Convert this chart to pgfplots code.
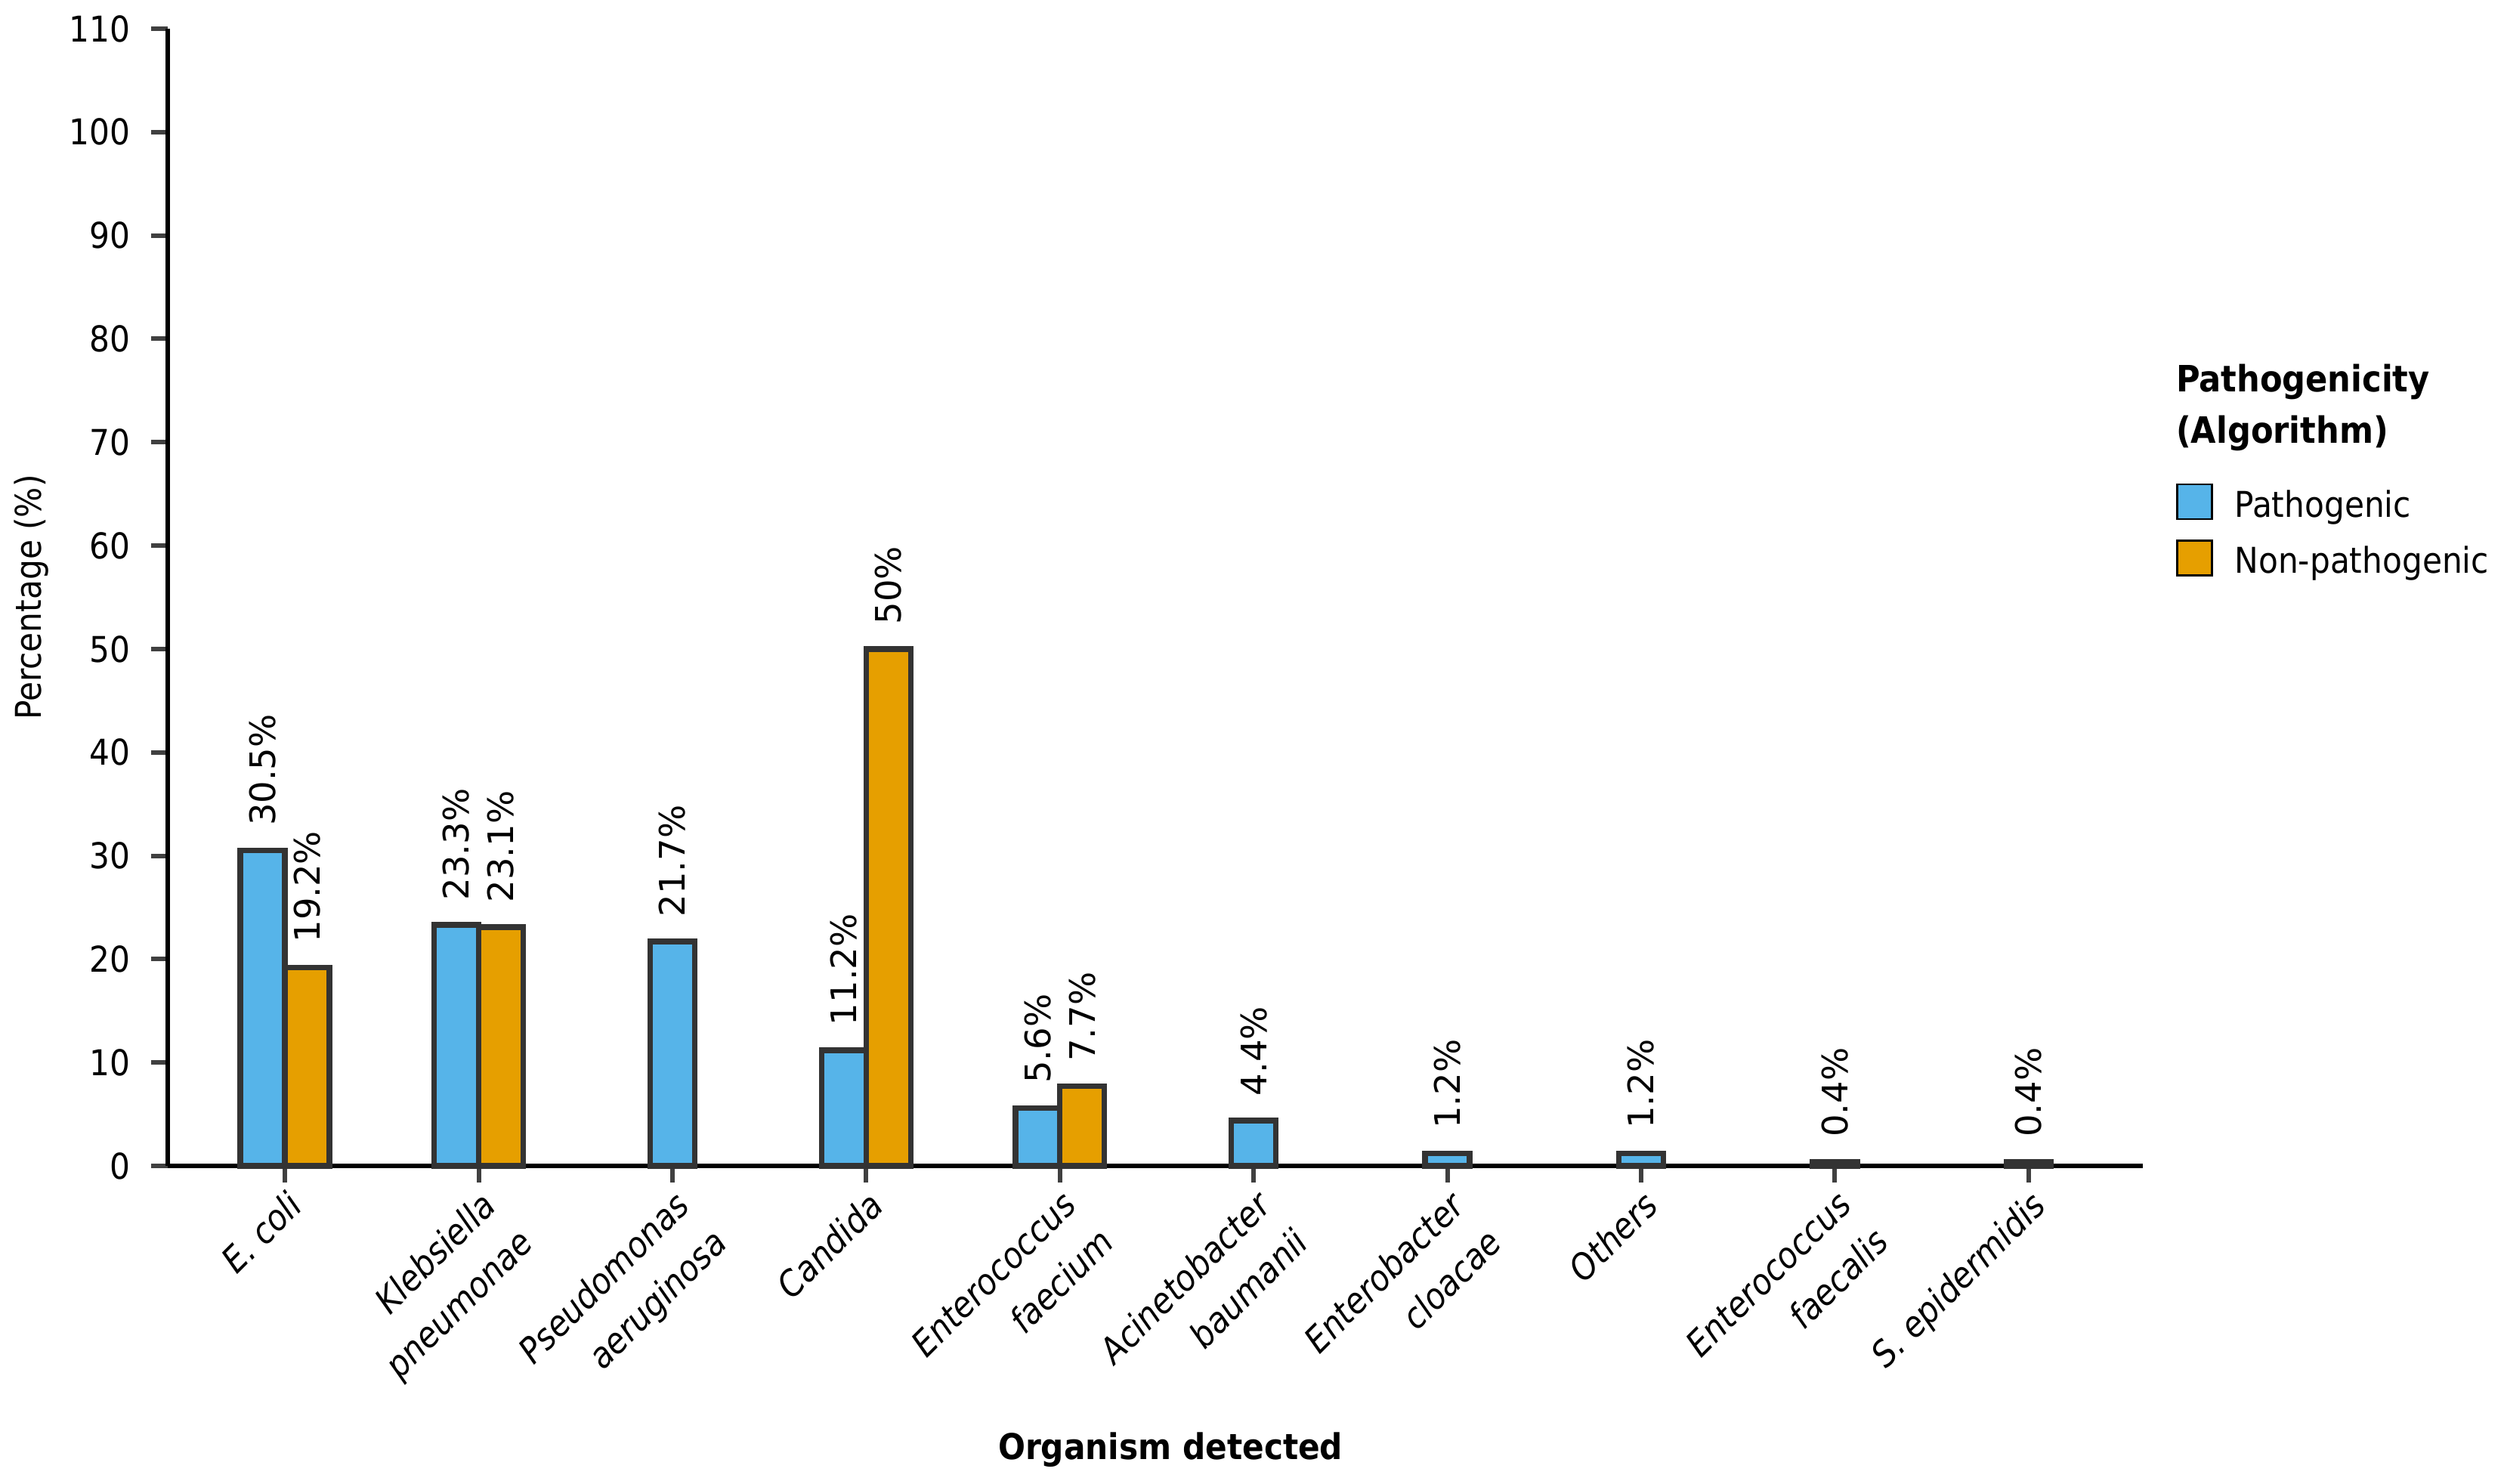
\documentclass[border=0pt]{standalone}
\usepackage{pgfplots}
\pgfplotsset{compat=1.18}
\usepackage{fontspec}
\setmainfont{DejaVuSansCondensed}[Extension=.ttf, BoldFont=DejaVuSansCondensed-Bold, ItalicFont=DejaVuSansCondensed-Oblique, BoldItalicFont=DejaVuSansCondensed-BoldOblique]
\newfontfamily\labelfont{DejaVu Sans}

\definecolor{patho}{HTML}{56B4E9}
\definecolor{nonpatho}{HTML}{E69F00}
\definecolor{barline}{HTML}{333333}
\definecolor{tickgray}{HTML}{404040}

\newcommand\basefont{\fontsize{9.4}{14}\selectfont}
\pgfplotsset{
  boxlegend/.style={legend image code/.code={\draw[##1, draw=black, line width=0.5pt] (0pt,-4.6pt) rectangle (9.2pt,4.6pt);}},
}

\begin{document}
\begin{tikzpicture}
\begin{axis}[
  name=ax,
  scale only axis,
  clip=false,
  width=522.8pt, height=301pt,
  xmin=-0.605, xmax=9.59,
  ymin=0, ymax=110,
  ytick={0,10,...,110},
  xtick={0,...,9},
  xticklabels={E. coli, {Klebsiella\\pneumonae}, {Pseudomonas\\aeruginosa}, Candida,
    {Enterococcus\\faecium}, {Acinetobacter\\baumanii}, {Enterobacter\\cloacae},
    Others, {Enterococcus\\faecalis}, S. epidermidis},
  axis x line*=bottom, axis y line*=left,
  axis line style={black, line width=1.3pt},
  tick align=outside,
  major tick length=4.4pt,
  tick style={tickgray, line width=1.2pt},
  /pgf/number format/assume math mode=true,
  yticklabel style={font=\basefont, xshift=-2pt},
  xticklabel style={font=\basefont\itshape, rotate=45, anchor=north east, align=right, inner sep=1pt},
  ylabel={Percentage (\%)},
  ylabel style={font=\basefont, at={(axis description cs:-0.0689,0.5)}, anchor=center},
  xlabel={Organism detected},
  xlabel style={font=\basefont\bfseries, at={(axis description cs:0.5077,0)}, anchor=center, yshift=-75.2pt},
  bar width=0.23,
  nodes near coords={\rotatebox{90}{\pgfmathprintnumber[fixed,precision=1]{\pgfplotspointmeta}\%}},
  every node near coord/.append style={font=\labelfont\fontsize{9.3}{11}\selectfont, anchor=south, inner sep=0pt, inner ysep=5.8pt, black},
  legend style={at={(axis description cs:1.0165,0.6007)}, anchor=north west, draw=none, fill=none,
    inner sep=0pt, row sep=5.2pt, column sep=5.8pt,
    nodes={inner sep=0pt, font=\basefont, text height=8.6pt, text depth=0.6pt}},
  legend cell align=left,
]
% pathogenic, paired with non-pathogenic (left of the tick)
\addplot[ybar, fill=patho, draw=barline, line width=1.5pt, bar shift=-0.115, boxlegend,
    every node near coord/.append style={xshift=-5.9pt}]
  coordinates {(0,30.5) (1,23.3) (3,11.2) (4,5.6)};
% non-pathogenic (right of the tick)
\addplot[ybar, fill=nonpatho, draw=barline, line width=1.5pt, bar shift=0.115, boxlegend,
    every node near coord/.append style={xshift=5.9pt}]
  coordinates {(0,19.2) (1,23.1) (3,50) (4,7.7)};
% pathogenic only (centred)
\addplot[ybar, fill=patho, draw=barline, line width=1.5pt, bar shift=0, forget plot]
  coordinates {(2,21.7) (5,4.4) (6,1.2) (7,1.2) (8,0.4) (9,0.4)};
\legend{Pathogenic, Non-pathogenic}
\node[anchor=north west, align=left, inner sep=0pt, font=\fontsize{9.6}{13.6}\selectfont\bfseries]
  at (axis description cs:1.0165,0.7053) {Pathogenicity\\(Algorithm)};
\end{axis}
\pgfresetboundingbox
\path ([shift={(-44.4pt,-84.2pt)}]ax.south west) rectangle ([shift={(618.4pt,308.6pt)}]ax.south west);
\end{tikzpicture}
\end{document}
